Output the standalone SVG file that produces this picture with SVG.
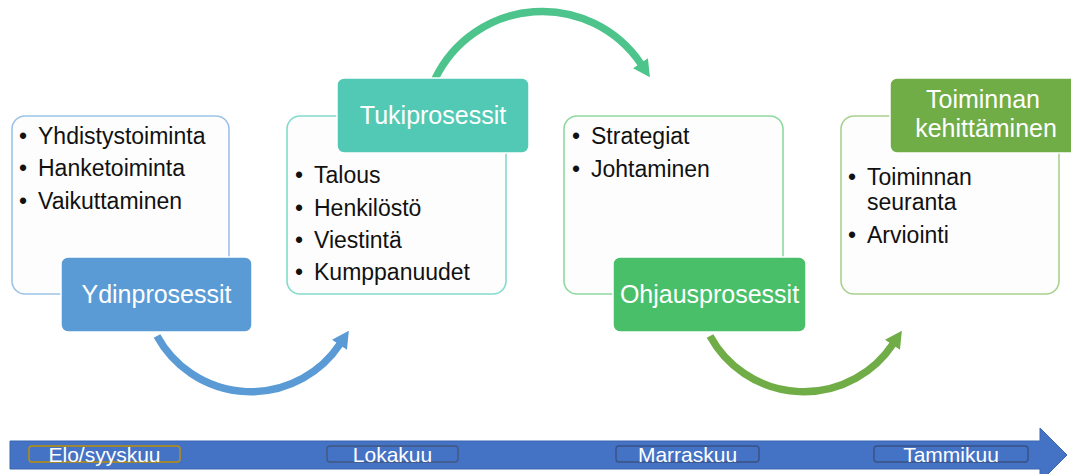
<svg xmlns="http://www.w3.org/2000/svg" width="1071" height="474" viewBox="0 0 1071 474">
  <style>
    .card { fill: #FDFDFD; stroke-width: 1.6; }
    .head { stroke: #FFFFFF; stroke-width: 1.5; }
    .ht { font-family: "Liberation Sans", Arial, sans-serif; font-size: 25px; fill: #FFFFFF; text-anchor: middle; }
    .bt { font-family: "Liberation Sans", Arial, sans-serif; font-size: 23px; fill: #111111; }
    .mt { font-family: "Liberation Sans", Arial, sans-serif; font-size: 21px; fill: #FFFFFF; text-anchor: middle; }
    .mb { fill: none; stroke-width: 1.4; }
    .arc { fill: none; stroke-width: 7.5; }
  </style>
  <defs>
    <marker id="ahBlue" markerUnits="userSpaceOnUse" markerWidth="20" markerHeight="20" refX="1" refY="10" orient="auto">
      <path d="M0,1 L17,10 L0,19 Z" fill="#5B9BD5"/>
    </marker>
    <marker id="ahTeal" markerUnits="userSpaceOnUse" markerWidth="20" markerHeight="20" refX="1" refY="10" orient="auto">
      <path d="M0,1 L17,10 L0,19 Z" fill="#4DC48B"/>
    </marker>
    <marker id="ahGreen" markerUnits="userSpaceOnUse" markerWidth="20" markerHeight="20" refX="1" refY="10" orient="auto">
      <path d="M0,1 L17,10 L0,19 Z" fill="#70AD47"/>
    </marker>
  </defs>

  <!-- timeline -->
  <g id="timeline">
    <path d="M10,441 L1040,441 L1040,428 L1067,455 L1040,482 L1040,469 L10,469 Z" fill="#4472C4" stroke="#3B64B0" stroke-width="1"/>
    <rect class="mb" x="29" y="446" width="151" height="16" rx="3" stroke="#BF8F00"/>
    <text class="mt" x="104.5" y="462">Elo/syyskuu</text>
    <rect class="mb" x="327" y="446" width="131" height="16" rx="3" stroke="#44577F"/>
    <text class="mt" x="392.5" y="462">Lokakuu</text>
    <rect class="mb" x="616" y="446" width="143" height="16" rx="3" stroke="#3A5284"/>
    <text class="mt" x="687.5" y="462">Marraskuu</text>
    <rect class="mb" x="874" y="446" width="154" height="16" rx="3" stroke="#3A5284"/>
    <text class="mt" x="951" y="462">Tammikuu</text>
  </g>

  <!-- connectors -->
  <g id="connectors">
    <path class="arc" d="M157,336 A107,107 0 0 0 340,344" stroke="#5B9BD5" marker-end="url(#ahBlue)"/>
    <path class="arc" d="M435,79 A119,119 0 0 1 641,64" stroke="#4DC48B" marker-end="url(#ahTeal)"/>
    <path class="arc" d="M710,336 A107,107 0 0 0 893,344" stroke="#70AD47" marker-end="url(#ahGreen)"/>
  </g>

  <!-- Ydinprosessit -->
  <g id="node-ydin">
    <rect class="card" x="12" y="116" width="217" height="178" rx="13" stroke="#9DC3E6"/>
    <text class="bt" x="19" y="144">•</text><text class="bt" x="38" y="144">Yhdistystoiminta</text>
    <text class="bt" x="19" y="176">•</text><text class="bt" x="38" y="176">Hanketoiminta</text>
    <text class="bt" x="19" y="209">•</text><text class="bt" x="38" y="209">Vaikuttaminen</text>
    <rect class="head" x="61" y="257" width="191" height="75" rx="7" fill="#5B9BD5"/>
    <text class="ht" x="156.5" y="303">Ydinprosessit</text>
  </g>

  <!-- Tukiprosessit -->
  <g id="node-tuki">
    <rect class="card" x="287" y="116" width="219" height="178" rx="13" stroke="#84DACC"/>
    <text class="bt" x="295" y="183">•</text><text class="bt" x="314" y="183">Talous</text>
    <text class="bt" x="295" y="216">•</text><text class="bt" x="314" y="216">Henkilöstö</text>
    <text class="bt" x="295" y="248">•</text><text class="bt" x="314" y="248">Viestintä</text>
    <text class="bt" x="295" y="280">•</text><text class="bt" x="314" y="280">Kumppanuudet</text>
    <rect class="head" x="337" y="78" width="192" height="75" rx="7" fill="#52C9B5"/>
    <text class="ht" x="433" y="124">Tukiprosessit</text>
  </g>

  <!-- Ohjausprosessit -->
  <g id="node-ohjaus">
    <rect class="card" x="564" y="116" width="219" height="178" rx="13" stroke="#8FD9A0"/>
    <text class="bt" x="572" y="144">•</text><text class="bt" x="591" y="144">Strategiat</text>
    <text class="bt" x="572" y="177">•</text><text class="bt" x="591" y="177">Johtaminen</text>
    <rect class="head" x="613" y="257" width="193" height="75" rx="7" fill="#48BF68"/>
    <text class="ht" x="709.5" y="303">Ohjausprosessit</text>
  </g>

  <!-- Toiminnan kehittäminen -->
  <g id="node-kehitys">
    <rect class="card" x="841" y="116" width="218" height="178" rx="13" stroke="#A9D18E"/>
    <text class="bt" x="848" y="185">•</text><text class="bt" x="867" y="185">Toiminnan</text>
    <text class="bt" x="867" y="210">seuranta</text>
    <text class="bt" x="848" y="243">•</text><text class="bt" x="867" y="243">Arviointi</text>
    <rect class="head" x="890" y="78" width="192" height="75" rx="7" fill="#70AD47"/>
    <text class="ht" x="983" y="108">Toiminnan</text>
    <text class="ht" x="986" y="137">kehittäminen</text>
  </g>
</svg>
